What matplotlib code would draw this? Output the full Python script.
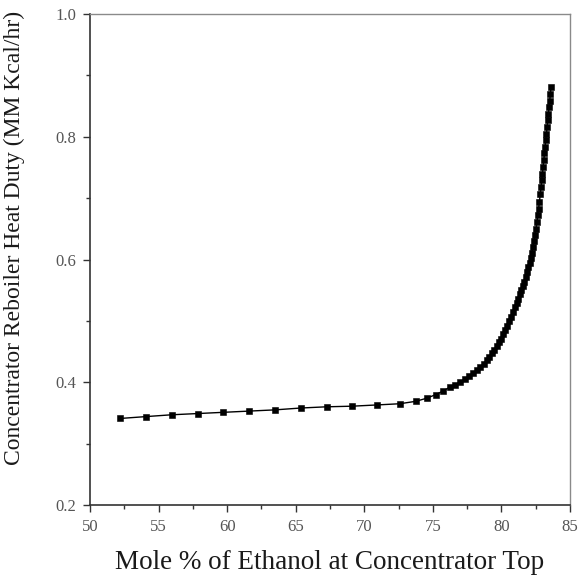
import matplotlib
matplotlib.use("Agg")
import matplotlib.pyplot as plt
from matplotlib.ticker import MultipleLocator

# Ethanol mole % at concentrator top vs. reboiler heat duty
ethanol_pct = [52.2, 54.06, 55.95, 57.85, 59.72, 61.6, 63.49, 65.36, 67.25, 69.12,
               70.9, 72.6, 73.77, 74.55, 75.23, 75.76, 76.25, 76.61, 76.98, 77.34,
               77.66, 77.95, 78.22, 78.47, 78.70, 78.92, 79.12, 79.30, 79.48, 79.65,
               79.82, 79.98, 80.14, 80.29, 80.44, 80.58, 80.72, 80.85, 80.98, 81.10,
               81.22, 81.34, 81.45, 81.56, 81.66, 81.76, 81.86, 81.96, 82.05, 82.14,
               82.22, 82.30, 82.38, 82.45, 82.52, 82.59, 82.65, 82.71, 82.77, 82.83,
               82.89, 82.94, 82.99, 83.04, 83.09, 83.14, 83.18, 83.23, 83.28, 83.33,
               83.38, 83.42, 83.47, 83.52, 83.57, 83.62]
heat_duty = [0.341, 0.344, 0.347, 0.349, 0.351, 0.353, 0.355, 0.358, 0.360, 0.361,
             0.363, 0.365, 0.369, 0.374, 0.380, 0.386, 0.392, 0.396, 0.400, 0.405,
             0.410, 0.415, 0.420, 0.425, 0.430, 0.436, 0.441, 0.447, 0.453, 0.459,
             0.465, 0.471, 0.479, 0.485, 0.492, 0.499, 0.507, 0.515, 0.522, 0.529,
             0.536, 0.543, 0.550, 0.557, 0.564, 0.571, 0.579, 0.587, 0.595, 0.603,
             0.611, 0.620, 0.630, 0.640, 0.650, 0.661, 0.672, 0.683, 0.694, 0.706,
             0.718, 0.729, 0.740, 0.751, 0.762, 0.773, 0.783, 0.794, 0.805, 0.816,
             0.827, 0.837, 0.848, 0.859, 0.870, 0.881]

x_ticks = [50, 55, 60, 65, 70, 75, 80, 85]
y_ticks = [0.2, 0.4, 0.6, 0.8, 1.0]

serif = ["Liberation Serif", "DejaVu Serif"]
plt.rcParams["font.family"] = serif

fig = plt.figure(figsize=(5.79, 5.84), dpi=100)
ax = fig.add_axes([90 / 579, 1 - 505 / 584, 480 / 579, 491 / 584])

ax.plot(ethanol_pct, heat_duty, color="black", linewidth=1.0,
        marker="s", markersize=4.0, markerfacecolor="black",
        markeredgecolor="black", markeredgewidth=0.4)

ax.set_xlim(50, 85)
ax.set_ylim(0.2, 1.0)
ax.set_xticks(x_ticks)
ax.set_yticks(y_ticks)
ax.set_xticklabels([str(v) for v in x_ticks])
ax.set_yticklabels([f"{v:.1f}" for v in y_ticks])
ax.xaxis.set_minor_locator(MultipleLocator(2.5))
ax.yaxis.set_minor_locator(MultipleLocator(0.1))

ax.tick_params(which="major", direction="out", length=5, width=1.0,
               color="#333333", labelsize=12, labelcolor="#555555")
ax.tick_params(axis="x", which="major", pad=5)
ax.tick_params(axis="y", which="major", pad=5)
ax.tick_params(which="minor", direction="out", length=3, width=1.0,
               color="#333333")
ax.tick_params(top=False, right=False, which="both")

for side in ("left", "bottom"):
    ax.spines[side].set_color("#333333")
    ax.spines[side].set_linewidth(1.2)
for side in ("top", "right"):
    ax.spines[side].set_color("#8a8a8a")
    ax.spines[side].set_linewidth(1.0)

ax.set_xlabel("Mole % of Ethanol at Concentrator Top", fontsize=19.5,
              color="#1a1a1a", labelpad=11)
fig.text(14 / 579, 1 - 238 / 584, "Concentrator Reboiler Heat Duty (MM Kcal/hr)",
         rotation=90, ha="center", va="center", fontsize=17, color="#1a1a1a")

fig.savefig("out.png", dpi=100)
